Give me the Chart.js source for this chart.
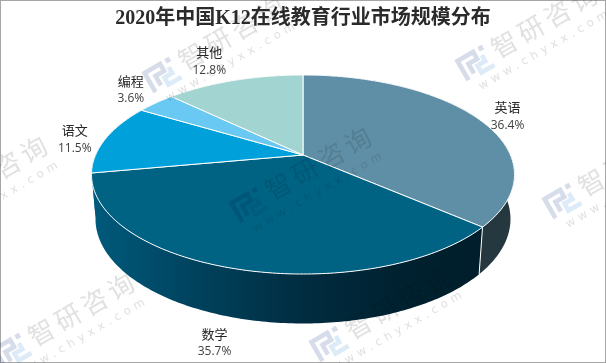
<!DOCTYPE html>
<html><head><meta charset="utf-8">
<style>html,body{margin:0;padding:0;background:#fff}canvas{display:block}</style>
<script src="https://cdn.jsdelivr.net/npm/chart.js@4"></script>
</head><body>
<canvas id="c" width="606" height="363"></canvas>
<script>
const categories = ['英语','数学','语文','编程','其他'];
const shareValues = [36.4,35.7,11.5,3.6,12.8];
const faceColors = ['#5F8FA6','#006384','#00A0DA','#69C9F2','#A2D5D2'];
const sideColors = ['#25383F','#00405A','#006E96','#3F90B0','#6F9A98'];
const titleText = '2020年中国K12在线教育行业市场规模分布';
const labelShifts = [[30,-3],[-21,73],[-31,0],[-25,-14],[-25,-20]];
const watermarkSpots = [[163,75],[476,63],[-74,214],[250,205],[563,201],[13,351],[330,344]];

const A=207.4, B=95.7, K=-0.196;
let ax=303, ay=155;
const ecx=302.5, ecy=174.5;
function top3(t){const x=Math.sin(t),y=-Math.cos(t),d=1+K*y;return {x:ax+A*x/d,y:ay+B*y/d};}
function bot3(t){const p=top3(t);return {x:ecx+(p.x-ecx)*0.981,y:ecy+44.5+(p.y-ecy)*1.05};}
function arcPts(fn,a,b){const n=Math.max(2,Math.ceil(Math.abs(b-a)/0.015));const r=[];for(let i=0;i<=n;i++)r.push(fn(a+(b-a)*i/n));return r;}

function drawLogo(ctx){
  ctx.lineWidth=4.6;ctx.lineCap='butt';ctx.lineJoin='miter';
  ctx.strokeStyle='#d6dcea';
  ctx.beginPath();ctx.moveTo(-15,11);ctx.lineTo(-15,-11);ctx.lineTo(3,-11);ctx.lineTo(3,-3);ctx.lineTo(-7,-3);ctx.lineTo(-7,8);ctx.stroke();
  ctx.strokeStyle='#dcebf7';
  ctx.beginPath();ctx.moveTo(9,-4);ctx.lineTo(9,3);ctx.lineTo(0,3);ctx.lineTo(0,11);ctx.lineTo(15,11);ctx.stroke();
  ctx.fillStyle='#d6dcea';ctx.fillRect(9,-13,5,5);
}
function drawWatermark(ctx,x,y){
  ctx.save();
  ctx.translate(x,y);ctx.rotate(-30*Math.PI/180);
  drawLogo(ctx);
  ctx.fillStyle='#e1e1e1';
  ctx.textAlign='left';ctx.textBaseline='middle';
  ctx.letterSpacing='4.5px';
  ctx.font='400 26px "Noto Sans CJK SC"';
  ctx.fillText('智研咨询',21,-2);
  ctx.letterSpacing='4.5px';
  ctx.font='11.5px "DejaVu Sans"';
  ctx.fillText('www.chyxx.com',-9,23);
  ctx.restore();
}
const pie3d = {
  id:'pie3d',
  beforeDraw(chart){
    const c=chart.ctx;c.save();c.fillStyle='#fff';c.fillRect(0,0,606,363);
    c.strokeStyle='#a6a6a6';c.lineWidth=1;c.strokeRect(.5,.5,605,362);c.restore();
  },
  beforeDatasetDraw(chart,args){
    const c=chart.ctx,els=args.meta.data;
    ax=els[0].x;ay=els[0].y;
    const T=e=>[e.startAngle+Math.PI/2,e.endAngle+Math.PI/2];
    c.save();
    const sideOrder=[4,3,2,0,1];
    sideOrder.forEach(i=>{
      const [a,b]=T(els[i]);
      const up=arcPts(top3,a,b),dn=arcPts(bot3,a,b).reverse();
      c.beginPath();up.concat(dn).forEach((p,j)=>j?c.lineTo(p.x,p.y):c.moveTo(p.x,p.y));c.closePath();
      if(i===1){
        const g=c.createLinearGradient(92,0,480,0);
        g.addColorStop(0,'#005A7C');g.addColorStop(.28,'#00415C');g.addColorStop(.55,'#002C40');g.addColorStop(.8,'#00212F');g.addColorStop(1,'#001E2C');
        c.fillStyle=g;
      } else c.fillStyle=sideColors[i];
      c.fill();
    });
    const [sa]=T(els[1]);
    const s1=top3(sa),s2=bot3(sa);
    c.strokeStyle='#fff';c.lineWidth=1;c.beginPath();c.moveTo(s1.x,s1.y);c.lineTo(s2.x,s2.y);c.stroke();
    els.forEach((e,i)=>{
      const [a,b]=T(e);
      c.beginPath();c.moveTo(ax,ay);arcPts(top3,a,b).forEach(p=>c.lineTo(p.x,p.y));c.closePath();
      c.fillStyle=e.options.backgroundColor;c.fill();
      c.strokeStyle='#fff';c.lineWidth=1;c.lineJoin='round';c.stroke();
    });
    c.restore();
    return false;
  },
  afterDraw(chart){
    const c=chart.ctx,els=chart.getDatasetMeta(0).data;
    c.save();
    c.globalCompositeOperation='multiply';
    watermarkSpots.forEach(s=>drawWatermark(c,s[0],s[1]));
    c.restore();
    c.save();
    c.textAlign='center';c.textBaseline='middle';
    els.forEach((e,i)=>{
      const m=(e.startAngle+e.endAngle)/2+Math.PI/2,p=top3(m);
      const x=p.x+labelShifts[i][0],y=p.y+labelShifts[i][1];
      c.fillStyle='#262626';c.font='13px "Noto Sans CJK SC"';
      c.fillText(categories[i],x,y-8);
      c.fillStyle='#404040';c.font='12px "Open Sans"';
      c.fillText(shareValues[i].toFixed(1)+'%',x,y+10);
    });
    c.restore();
  }
};
new Chart(document.getElementById('c'),{
  type:'pie',
  data:{labels:categories,datasets:[{data:shareValues,backgroundColor:faceColors,borderWidth:0}]},
  options:{
    responsive:false,animation:false,
    layout:{padding:{bottom:84}},
    plugins:{
      legend:{display:false},tooltip:{enabled:false},
      title:{display:true,text:titleText,color:'#2b2b2b',font:{family:'"Liberation Serif","Noto Sans CJK SC"',size:20,weight:'bold',lineHeight:1.2},padding:{top:7,bottom:0}}
    }
  },
  plugins:[pie3d]
});
</script>
</body></html>
